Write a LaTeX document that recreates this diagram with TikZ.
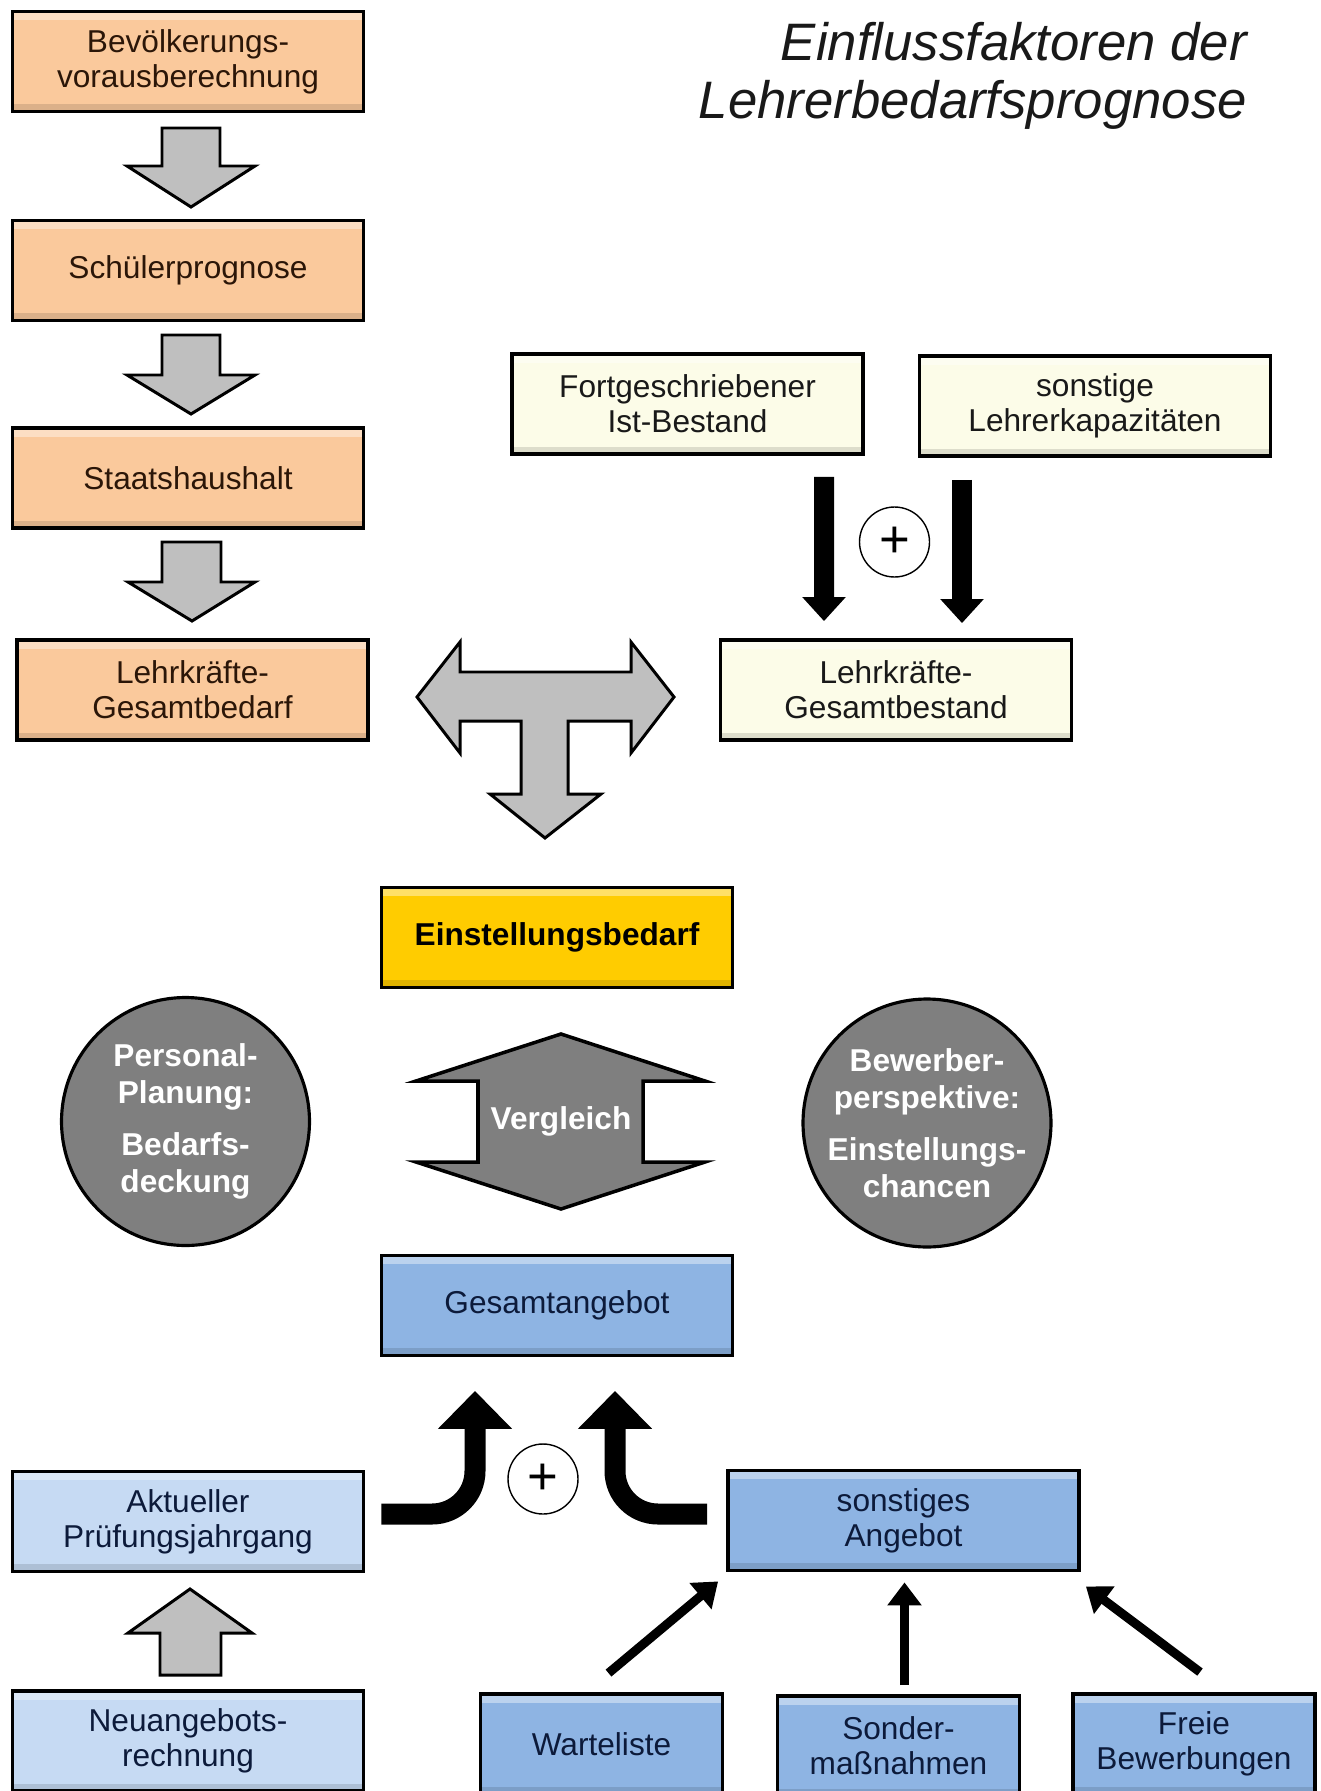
\documentclass[tikz,border=0pt]{standalone}
\usepackage{fontspec}
\setmainfont{Liberation Sans}
\usetikzlibrary{arrows.meta}

\definecolor{peach}{RGB}{250,201,156}
\definecolor{peachtext}{RGB}{43,22,8}
\definecolor{cream}{RGB}{252,252,232}
\definecolor{goldbox}{RGB}{255,204,0}
\definecolor{angebot}{RGB}{142,180,227}
\definecolor{lightangebot}{RGB}{198,218,243}
\definecolor{navy}{RGB}{12,26,58}
\definecolor{arrowgray}{RGB}{191,191,191}
\definecolor{notegray}{RGB}{127,127,127}

\begin{document}
\begin{tikzpicture}[x=0.02cm,y=-0.02cm,
  bevel/.style={path picture={
      \fill[white,opacity=0.4] (path picture bounding box.north west) rectangle ([yshift=-5pt]path picture bounding box.north east);
      \fill[black,opacity=0.12] (path picture bounding box.south west) rectangle ([yshift=4pt]path picture bounding box.south east);}},
  basebox/.style={draw=black,line width=2.2pt,minimum width=7.02cm,minimum height=2cm,bevel,
                  align=center,inner sep=2pt,font=\fontsize{18}{20}\selectfont},
  smallbox/.style={minimum width=4.84cm},
  bedarfbox/.style={basebox,fill=peach,text=peachtext},
  bestandbox/.style={basebox,fill=cream,text=black!90},
  angebotbox/.style={basebox,fill=angebot,text=navy},
  neubox/.style={basebox,fill=lightangebot,text=navy},
  blockarrow/.style={draw=black,line width=1.7pt,fill=arrowgray,line join=miter},
  roundnote/.style={circle,draw=black,line width=1.8pt,fill=notegray,minimum size=4.96cm,inner sep=0pt},
  notetext/.style={align=center,text=white,font=\bfseries\fontsize{18}{20.8}\selectfont},
  plussign/.style={circle,draw=black,line width=0.8pt,minimum size=1.4cm,inner sep=0pt,
                   fill=white,font=\fontsize{30}{30}\selectfont},
  fatarrow/.style={line width=0.4cm,-{Triangle[width=0.84cm,length=0.48cm]}},
  bendarrow/.style={line width=0.42cm,rounded corners=0.86cm,-{Triangle[width=1.44cm,length=0.76cm]}},
  thinarrow/.style={line width=0.18cm,-{Triangle[width=0.66cm,length=0.46cm]}}]

\useasboundingbox (0,0) rectangle (1321,1791);

\node[anchor=north east,align=right,font=\itshape\fontsize{30}{33}\selectfont,text=black!90] (title)
  at (1253,16) {Einflussfaktoren der\\Lehrerbedarfsprognose};

% Bedarf
\node[bedarfbox] (bev) at (188,61.5) {Bevölkerungs-\\vorausberechnung};
\node[bedarfbox] (schueler) at (188,270.5) {Schülerprognose};
\node[bedarfbox] (haushalt) at (188,478) {Staatshaushalt};
\node[bedarfbox] (gesbedarf) at (192.5,690) {Lehrkräfte-\\Gesamtbedarf};

% Bestand
\node[bestandbox] (ist) at (687.5,404) {Fortgeschriebener\\Ist-Bestand};
\node[bestandbox] (kapaz) at (1095,406) {sonstige\\Lehrerkapazitäten};
\node[bestandbox] (gesbestand) at (896,690) {Lehrkräfte-\\Gesamtbestand};

\node[basebox,fill=goldbox,font=\bfseries\fontsize{18}{20}\selectfont] (einst) at (557,937.5) {Einstellungsbedarf};

\node[roundnote,label={[notetext]center:Personal-\\Planung:\\[9pt]Bedarfs-\\deckung}] (planung) at (185.5,1121.5) {};
\node[roundnote,label={[notetext]center:Bewerber-\\perspektive:\\[9pt]Einstellungs-\\chancen}] (bewerber) at (927,1123) {};

% Angebot
\node[angebotbox] (gesangebot) at (557,1305.5) {Gesamtangebot};
\node[neubox] (pruefung) at (188,1521.5) {Aktueller\\Prüfungsjahrgang};
\node[neubox] (neuangebot) at (188,1741) {Neuangebots-\\rechnung};
\node[angebotbox] (sonstang) at (903.5,1520.5) {sonstiges\\Angebot};
\node[angebotbox,smallbox] (warte) at (601.5,1744) {Warteliste};
\node[angebotbox,smallbox] (sonder) at (898.5,1746) {Sonder-\\maßnahmen};
\node[angebotbox,smallbox] (freie) at (1194,1744) {Freie\\Bewerbungen};

% Blockpfeile
\draw[blockarrow] (162,128) -- (220,128) -- (220,166) -- (255,166) -- (191,207) -- (127,166) -- (162,166) -- cycle;
\draw[blockarrow] (162,335) -- (220,335) -- (220,375) -- (255,375) -- (191,414) -- (127,375) -- (162,375) -- cycle;
\draw[blockarrow] (162,542) -- (221,542) -- (221,582) -- (255,582) -- (192,621) -- (128,582) -- (162,582) -- cycle;
\draw[blockarrow] (160,1675) -- (221,1675) -- (221,1633) -- (252,1633) -- (190,1589) -- (128,1633) -- (160,1633) -- cycle;
\draw[blockarrow] (417,697) -- (460,642) -- (460,672) -- (631,672) -- (631,642) -- (674,697) -- (631,753)
  -- (631,721) -- (568,721) -- (568,794) -- (601,794) -- (545,838) -- (490,794) -- (521,794)
  -- (521,721) -- (460,721) -- (460,753) -- cycle;
\draw[blockarrow,fill=notegray,line width=2pt] (561,1034) -- (705,1081) -- (643,1081) -- (643,1162) -- (705,1162)
  -- (561,1209) -- (416,1162) -- (478,1162) -- (478,1081) -- (416,1081) -- cycle;
\node[text=white,font=\bfseries\fontsize{18}{20}\selectfont] (vergleich) at (561,1121) {Vergleich};

% Summen
\draw[fatarrow] ([shift={(136.5,21)}]ist.south) -- ([shift={(-72,-17)}]gesbestand.north);
\draw[fatarrow] ([shift={(-133,22)}]kapaz.south) -- ([shift={(66,-15)}]gesbestand.north);
\node[plussign] (plusoben) at (894.5,542) {+};

\draw[bendarrow] ([shift={(16,-7.5)}]pruefung.east) -| ([shift={(-82,33.5)}]gesangebot.south);
\draw[bendarrow] ([shift={(-19,-6.5)}]sonstang.west) -| ([shift={(58,33.5)}]gesangebot.south);
\node[plussign] (plusunten) at (543,1479) {+};

\draw[thinarrow] ([shift={(7,-19)}]warte.north) -- ([shift={(-8,9)}]sonstang.south west);
\draw[thinarrow] ([shift={(6,-9)}]sonder.north) -- ([shift={(1,10)}]sonstang.south);
\draw[thinarrow] ([shift={(6,-20)}]freie.north) -- ([shift={(5,14)}]sonstang.south east);
\end{tikzpicture}
\end{document}
